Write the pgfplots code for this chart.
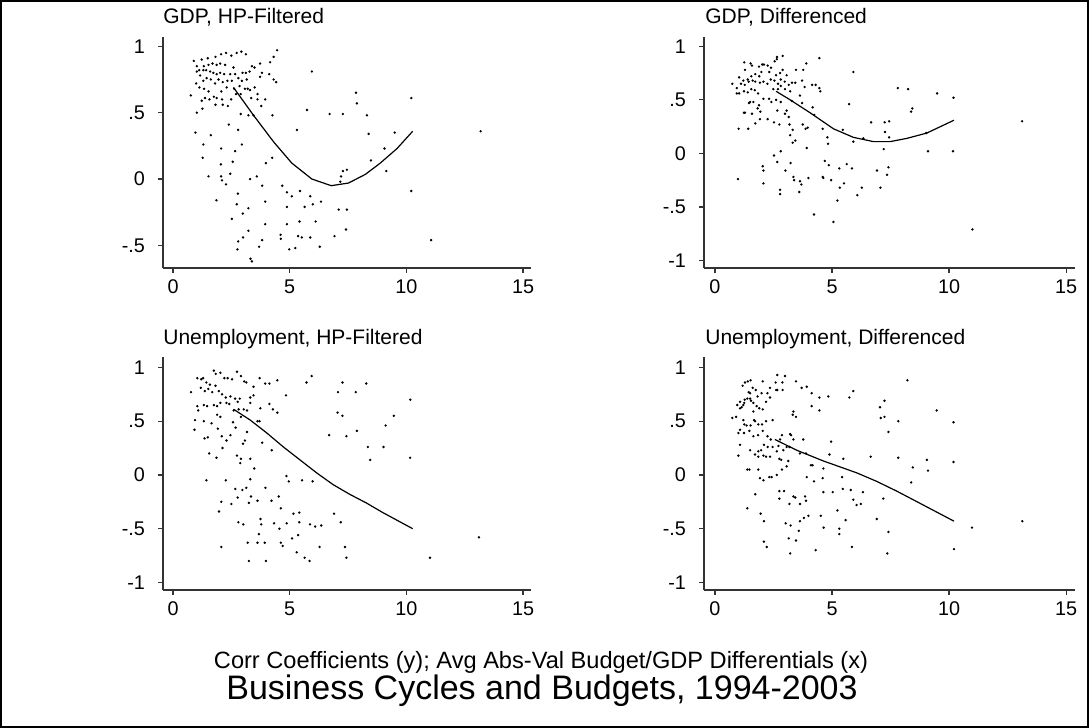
\documentclass[border=0pt]{standalone}
\usepackage{fontspec}
\setmainfont{Liberation Sans}
\usepackage{pgfplots}
\pgfplotsset{compat=1.18}
\pgfplotsset{
  statapanel/.style={
    scale only axis,
    axis x line*=bottom, axis y line*=left,
    axis line style={line width=0.6pt, black!80, -},
    every tick/.style={line width=0.6pt, black!80},
    tick align=outside,
    major tick length=2.5pt,
    xtick={0,5,10,15},
    xticklabels={0,5,10,15},
    ticklabel style={font=\fontsize{9.9}{11}\selectfont},
    yticklabel style={xshift=-3pt},
    /pgf/number format/assume math mode=true,
    clip=false,
  },
  dots/.style={only marks, mark=*, mark size=0.38pt, mark options={draw=none, fill=black!85}},
  fitline/.style={no marks, black, line width=0.6pt},
}
\begin{document}
\begin{tikzpicture}
\useasboundingbox (0,0) rectangle (544.5pt,364pt);
\draw[line width=1pt] (0.5pt,0.5pt) rectangle (544pt,363.5pt);

% ---------- Panel 1: GDP, HP-Filtered ----------
\begin{axis}[statapanel, at={(81.5pt,230pt)}, anchor=south west,
  width=184pt, height=115.5pt,
  xmin=-0.43, xmax=15.34, ymin=-0.67, ymax=1.07,
  ytick={-0.5,0,0.5,1}, yticklabels={-.5,0,.5,1}]
\addplot[dots] coordinates {
(0.89,0.89)(1.23,0.90)(1.49,0.91)(1.82,0.92)(2.06,0.94)(2.27,0.95)(2.50,0.93)(2.73,0.95)(2.93,0.96)(3.12,0.94)(4.46,0.97)(4.31,0.92)(4.16,0.88)(3.73,0.87)(3.38,0.85)(3.49,0.84)(2.59,0.84)(2.23,0.86)(2.02,0.87)(1.87,0.86)(1.69,0.87)(1.52,0.86)(1.32,0.85)(1.02,0.85)(1.12,0.82)(1.30,0.82)(1.42,0.82)(1.59,0.81)(1.73,0.80)(1.87,0.79)(2.02,0.80)(2.19,0.79)(2.45,0.79)(2.66,0.79)(2.98,0.80)(3.12,0.80)(3.16,0.75)(3.28,0.81)(3.81,0.80)(4.12,0.79)(4.42,0.73)(4.31,0.75)(3.73,0.77)(2.95,0.74)(2.80,0.76)(2.52,0.74)(2.33,0.74)(2.13,0.73)(1.95,0.75)(1.80,0.72)(1.62,0.75)(1.44,0.76)(1.30,0.74)(1.16,0.78)(1.02,0.81)(0.99,0.72)(1.13,0.69)(1.33,0.68)(1.52,0.66)(1.37,0.61)(1.23,0.59)(1.56,0.60)(1.75,0.62)(1.87,0.61)(2.07,0.66)(2.30,0.69)(2.62,0.68)(2.85,0.70)(3.08,0.68)(3.20,0.68)(3.30,0.67)(3.50,0.69)(3.62,0.64)(3.35,0.61)(3.62,0.60)(3.95,0.60)(3.78,0.55)(2.90,0.64)(2.70,0.64)(2.49,0.60)(2.35,0.55)(2.10,0.60)(2.13,0.56)(1.82,0.56)(1.26,0.53)(1.02,0.50)(0.76,0.63)
(5.74,0.52)(4.26,0.48)(3.23,0.48)(2.90,0.49)(3.45,0.48)(6.71,0.49)(7.28,0.49)(8.31,0.48)(7.84,0.65)(7.88,0.57)(5.95,0.81)(5.31,0.37)(2.79,0.37)(2.39,0.41)(0.96,0.35)(1.62,0.33)(1.30,0.26)(2.95,0.26)(2.66,0.21)(2.06,0.23)(1.27,0.16)(4.25,0.16)(3.98,0.12)(2.56,0.13)(2.05,0.11)(2.45,0.04)(1.52,0.02)(2.06,0.02)(2.10,-0.01)(2.27,-0.04)(3.30,0.00)(3.59,0.02)(4.68,-0.05)(3.82,-0.05)(2.78,-0.11)(4.88,-0.10)(5.09,-0.13)(5.44,-0.09)(5.88,-0.13)(5.99,-0.19)(6.34,-0.17)(5.64,-0.21)(4.88,-0.21)(3.95,-0.17)(3.23,-0.22)(2.73,-0.19)(1.86,-0.16)(2.99,-0.26)(2.52,-0.30)(7.17,-0.02)(7.20,0.02)(7.28,0.06)(7.45,0.07)(7.10,-0.23)(7.45,-0.23)(8.48,0.14)(9.14,0.06)(9.06,0.23)(9.50,0.35)(8.38,0.34)(10.21,0.61)(10.21,-0.09)(11.06,-0.46)(13.18,0.36)(4.88,-0.34)(3.95,-0.34)(5.42,-0.32)(6.11,-0.32)(7.41,-0.38)(6.92,-0.43)(5.88,-0.44)(5.52,-0.44)(5.36,-0.43)(4.61,-0.42)(4.62,-0.45)(3.82,-0.46)(3.23,-0.39)(3.00,-0.44)(2.79,-0.47)(2.76,-0.53)(3.69,-0.51)(3.32,-0.60)(3.38,-0.62)(4.98,-0.53)(5.24,-0.52)(6.29,-0.51)
};
\addplot[fitline] coordinates {(2.59,0.69)(3.45,0.48)(4.31,0.28)(5.09,0.12)(5.95,0.00)(6.78,-0.05)(7.52,-0.03)(8.24,0.035)(8.88,0.12)(9.60,0.23)(10.27,0.36)};
\end{axis}

% ---------- Panel 2: GDP, Differenced ----------
\begin{axis}[statapanel, at={(352pt,230pt)}, anchor=south west,
  width=185.5pt, height=115.5pt,
  xmin=-0.47, xmax=15.38, ymin=-1.07, ymax=1.087,
  ytick={-1,-0.5,0,0.5,1}, yticklabels={-1,-.5,0,.5,1}]
\addplot[dots] coordinates {
(1.25,0.85)(1.52,0.84)(1.58,0.82)(1.28,0.78)(1.88,0.81)(2.02,0.83)(2.09,0.83)(2.25,0.82)(2.39,0.80)(2.55,0.86)(2.65,0.90)(2.89,0.91)(2.64,0.88)(3.90,0.84)(4.46,0.89)(3.46,0.78)(3.77,0.78)(2.89,0.78)(3.06,0.73)(2.78,0.75)(2.61,0.73)(2.32,0.76)(1.98,0.76)(1.89,0.72)(1.72,0.74)(1.55,0.72)(1.40,0.69)(1.21,0.68)(1.03,0.71)(0.74,0.65)(0.93,0.61)(1.11,0.65)(1.27,0.64)(1.44,0.67)(1.61,0.68)(1.72,0.67)(1.92,0.66)(2.07,0.67)(2.24,0.65)(2.38,0.69)(2.54,0.68)(2.69,0.65)(2.81,0.69)(2.98,0.67)(3.15,0.64)(3.29,0.66)(3.43,0.66)(3.72,0.68)(3.83,0.62)(4.15,0.64)(4.30,0.64)(4.46,0.61)(4.50,0.58)(3.63,0.54)(3.21,0.58)(2.99,0.60)(2.81,0.63)(2.69,0.60)(2.49,0.60)(2.31,0.51)(2.07,0.51)(1.84,0.56)(1.70,0.59)(1.55,0.60)(1.40,0.57)(1.24,0.58)(1.03,0.56)(0.93,0.56)(1.50,0.48)(1.64,0.48)(1.45,0.47)(1.88,0.45)(1.82,0.42)(1.94,0.39)(1.92,0.32)(2.25,0.32)(2.52,0.29)(2.75,0.27)(2.41,0.48)(2.61,0.50)(2.81,0.48)(3.28,0.49)(3.72,0.47)(2.99,0.37)(3.06,0.40)(3.15,0.34)(3.18,0.27)(2.66,0.40)(1.72,0.28)(1.58,0.37)(1.28,0.38)(1.42,0.23)(1.01,0.23)(1.24,0.38)
(5.73,0.46)(5.91,0.76)(4.17,0.43)(4.24,0.36)(3.75,0.27)(3.96,0.24)(3.87,0.23)(3.32,0.22)(3.21,0.17)(3.43,0.12)(3.32,0.10)(4.60,0.23)(4.80,0.15)(4.83,0.09)(5.46,0.22)(5.91,0.11)(6.34,0.14)(6.67,0.29)(7.25,0.29)(7.44,0.30)(7.26,0.20)(7.44,0.15)(7.21,0.04)(7.81,0.61)(8.25,0.60)(9.49,0.56)(10.19,0.52)(8.38,0.39)(8.43,0.42)(9.02,0.19)(9.10,0.02)(10.17,0.02)(13.12,0.30)(3.92,0.05)(2.81,0.02)(2.52,-0.02)(2.66,-0.08)(2.04,-0.12)(2.07,-0.16)(2.07,-0.28)(2.78,-0.34)(2.78,-0.38)(3.01,-0.16)(3.23,-0.09)(3.35,-0.22)(3.38,-0.25)(3.63,-0.26)(3.69,-0.29)(3.60,-0.36)(3.99,-0.23)(4.60,-0.22)(4.63,-0.23)(4.69,-0.07)(4.86,-0.11)(5.31,-0.14)(5.63,-0.10)(5.85,-0.14)(4.96,-0.25)(5.33,-0.32)(5.51,-0.28)(6.27,-0.32)(6.08,-0.39)(5.23,-0.44)(5.06,-0.64)(4.23,-0.57)(6.92,-0.16)(7.07,-0.32)(7.41,-0.13)(7.35,-0.20)(11.00,-0.71)(0.98,-0.24)
};
\addplot[fitline] coordinates {(2.61,0.58)(3.21,0.50)(4.06,0.38)(5.06,0.23)(5.91,0.15)(6.77,0.11)(7.48,0.11)(8.19,0.14)(9.05,0.19)(10.21,0.31)};
\end{axis}

% ---------- Panel 3: Unemployment, HP-Filtered ----------
\begin{axis}[statapanel, at={(81.5pt,69pt)}, anchor=south west,
  width=184pt, height=116.5pt,
  xmin=-0.43, xmax=15.34, ymin=-1.07, ymax=1.097,
  ytick={-1,-0.5,0,0.5,1}, yticklabels={-1,-.5,0,.5,1}]
\addplot[dots] coordinates {
(0.77,0.77)(1.04,0.90)(1.21,0.89)(1.29,0.90)(1.43,0.86)(1.58,0.84)(1.75,0.97)(1.83,0.94)(2.03,0.95)(2.20,0.90)(2.34,0.90)(2.53,0.89)(2.74,0.96)(2.91,0.92)(3.05,0.87)(3.14,0.86)(3.45,0.82)(3.71,0.90)(3.95,0.85)(4.13,0.85)(4.47,0.88)(4.84,0.74)(5.72,0.86)(5.94,0.92)(7.26,0.86)(8.28,0.85)(7.83,0.77)(7.07,0.77)(1.19,0.81)(1.36,0.78)(1.51,0.80)(1.68,0.77)(1.82,0.83)(1.96,0.78)(2.10,0.75)(2.26,0.72)(2.46,0.73)(2.66,0.71)(2.86,0.71)(3.31,0.72)(3.45,0.74)(3.74,0.62)(4.13,0.66)(4.28,0.61)(4.47,0.58)(3.31,0.67)(3.17,0.60)(3.03,0.61)(2.81,0.61)(2.77,0.68)(2.60,0.60)(2.41,0.66)(2.29,0.67)(2.03,0.67)(1.89,0.64)(1.75,0.65)(1.46,0.64)(1.32,0.65)(1.04,0.64)(1.08,0.60)(0.94,0.51)(0.92,0.42)(1.32,0.50)(1.65,0.48)(1.89,0.56)(2.03,0.54)(1.92,0.43)(2.09,0.36)(2.12,0.25)(2.29,0.32)(2.46,0.37)(2.57,0.49)(2.68,0.44)(2.91,0.54)(3.17,0.40)(3.08,0.32)(3.00,0.29)(2.74,0.18)(2.91,0.15)(2.88,0.11)(3.31,0.15)(3.48,0.06)(3.62,0.50)(3.82,0.30)(4.23,0.23)(3.71,0.50)(1.49,0.35)(1.35,0.34)(1.55,0.20)(1.86,0.16)
(1.43,-0.05)(2.26,-0.05)(2.50,-0.27)(2.07,-0.25)(1.97,-0.34)(2.67,-0.13)(2.97,-0.14)(3.14,-0.12)(2.77,-0.21)(3.31,-0.04)(3.34,-0.20)(3.25,-0.26)(3.62,-0.24)(3.96,-0.12)(4.22,-0.24)(4.53,-0.20)(4.62,-0.31)(4.86,-0.01)(4.96,-0.06)(5.53,-0.05)(5.98,-0.06)(6.69,0.37)(7.05,0.58)(7.26,0.55)(7.43,0.36)(7.88,0.41)(8.35,0.26)(8.45,0.14)(9.02,0.26)(9.11,0.46)(9.46,0.55)(10.17,0.70)(10.16,0.16)(5.16,-0.36)(5.41,-0.35)(5.41,-0.44)(4.87,-0.45)(4.33,-0.45)(4.56,-0.50)(3.78,-0.46)(3.75,-0.41)(3.93,-0.63)(3.62,-0.63)(3.01,-0.46)(2.80,-0.44)(3.20,-0.63)(3.68,-0.55)(4.62,-0.63)(4.70,-0.66)(5.10,-0.59)(5.36,-0.56)(5.30,-0.72)(5.64,-0.77)(5.85,-0.80)(5.87,-0.46)(6.09,-0.48)(6.35,-0.47)(6.28,-0.67)(6.90,-0.36)(7.19,-0.44)(7.37,-0.67)(7.43,-0.77)(3.25,-0.80)(3.98,-0.80)(2.07,-0.67)(11.01,-0.77)(13.11,-0.58)
};
\addplot[fitline] coordinates {(2.60,0.61)(3.31,0.51)(4.02,0.39)(4.73,0.26)(5.44,0.14)(6.15,0.02)(6.86,-0.09)(7.57,-0.18)(8.28,-0.26)(8.99,-0.35)(10.27,-0.50)};
\end{axis}

% ---------- Panel 4: Unemployment, Differenced ----------
\begin{axis}[statapanel, at={(352pt,69pt)}, anchor=south west,
  width=185.5pt, height=116.5pt,
  xmin=-0.47, xmax=15.38, ymin=-1.07, ymax=1.097,
  ytick={-1,-0.5,0,0.5,1}, yticklabels={-1,-.5,0,.5,1}]
\addplot[dots] coordinates {
(0.74,0.53)(0.90,0.54)(1.07,0.62)(1.14,0.63)(1.25,0.67)(1.27,0.70)(1.38,0.71)(1.50,0.71)(1.54,0.69)(1.64,0.67)(1.78,0.64)(1.89,0.62)(2.04,0.61)(2.18,0.68)(2.35,0.72)(2.46,0.51)(2.18,0.50)(2.01,0.47)(1.85,0.47)(1.67,0.51)(1.52,0.46)(1.35,0.46)(1.25,0.47)(1.21,0.51)(1.07,0.42)(1.00,0.39)(1.24,0.39)(1.47,0.41)(1.64,0.36)(1.84,0.37)(2.04,0.41)(2.24,0.36)(2.38,0.33)(2.46,0.26)(2.25,0.26)(2.09,0.28)(1.97,0.23)(1.85,0.22)(1.85,0.17)(2.07,0.18)(2.18,0.17)(2.35,0.17)(2.64,0.22)(2.75,0.15)(2.83,0.14)(2.92,0.23)(3.06,0.26)(3.18,0.26)(3.13,0.13)(3.06,0.08)(2.86,0.05)(2.64,0.00)(2.42,-0.02)(2.32,-0.02)(2.07,-0.05)(1.92,-0.03)(1.85,0.05)(1.47,0.05)(1.38,0.05)(1.07,0.28)(1.00,0.18)(1.50,0.23)(1.71,0.19)(2.78,0.33)(2.71,0.27)(2.86,0.37)(3.21,0.38)(3.25,0.37)(3.35,0.33)(3.63,0.20)(3.77,0.33)(3.89,0.20)
(1.40,0.87)(1.52,0.88)(1.28,0.86)(1.18,0.83)(1.61,0.81)(1.74,0.79)(2.04,0.87)(2.59,0.86)(2.66,0.93)(2.99,0.92)(2.89,0.79)(2.66,0.79)(2.35,0.81)(2.24,0.76)(1.99,0.76)(1.82,0.73)(1.50,0.76)(1.44,0.77)(1.07,0.68)(0.95,0.65)(1.21,0.65)(1.64,0.59)(1.71,0.50)(3.35,0.59)(3.32,0.56)(3.46,0.54)(3.46,0.87)(3.70,0.81)(3.92,0.82)(4.13,0.76)(4.46,0.72)(4.84,0.73)(4.13,0.64)(4.46,0.60)(2.88,0.86)(2.61,0.79)(8.22,0.88)
(4.17,0.09)(4.10,0.09)(3.92,-0.02)(4.23,-0.06)(4.60,-0.03)(4.63,0.06)(4.89,0.19)(4.96,0.31)(5.48,0.15)(5.43,-0.02)(5.80,-0.14)(5.23,-0.33)(5.03,-0.16)(4.63,-0.16)(5.46,-0.13)(6.05,-0.28)(6.23,-0.27)(6.32,-0.16)(5.91,-0.23)(5.74,0.72)(5.91,0.78)(7.05,0.63)(7.24,0.69)(7.08,0.53)(7.24,0.54)(7.41,0.40)(6.65,0.17)(7.83,0.50)(7.83,0.16)(8.45,0.07)(8.38,-0.07)(9.05,0.14)(9.10,0.04)(9.47,0.60)(10.19,0.49)(10.19,0.12)(7.19,-0.22)(6.91,-0.41)(7.41,-0.53)(7.36,-0.73)(5.85,-0.67)(5.58,-0.42)(5.31,-0.50)(5.31,-0.55)(4.64,-0.49)(4.52,-0.38)(3.99,-0.38)(3.80,-0.40)(3.63,-0.43)(3.58,-0.52)(3.23,-0.47)(3.02,-0.45)(3.15,-0.59)(3.46,-0.61)(3.21,-0.73)(4.30,-0.70)(2.21,-0.67)(2.09,-0.62)(2.09,-0.43)(1.95,-0.36)(1.38,-0.31)(1.72,-0.18)(2.75,-0.22)(2.75,-0.15)(2.95,-0.15)(3.18,-0.27)(3.35,-0.20)(3.43,-0.21)(3.63,-0.27)(3.85,-0.20)(3.89,-0.24)(10.98,-0.49)(13.13,-0.43)(10.21,-0.69)
};
\addplot[fitline] coordinates {(2.56,0.33)(3.49,0.23)(4.63,0.13)(6.05,0.02)(6.91,-0.06)(7.76,-0.15)(8.90,-0.28)(10.21,-0.43)};
\end{axis}

% ---------- Titles ----------
\begin{scope}[every node/.style={inner sep=0pt, font=\fontsize{10.5}{12}\selectfont}]
\node[anchor=base west] at (81.5pt,352.3pt) {GDP, HP-Filtered};
\node[anchor=base west] at (352.5pt,352.3pt) {GDP, Differenced};
\node[anchor=base west] at (81.5pt,191.8pt) {Unemployment, HP-Filtered};
\node[anchor=base west] at (352.5pt,191.8pt) {Unemployment, Differenced};
\end{scope}
\node[anchor=base, inner sep=0pt, font=\fontsize{11.8}{13}\selectfont] at (270.5pt,29.8pt) {Corr Coefficients (y); Avg Abs-Val Budget/GDP Differentials (x)};
\node[anchor=base, inner sep=0pt, font=\fontsize{17}{19}\selectfont] at (271pt,14pt) {Business Cycles and Budgets, 1994-2003};
\end{tikzpicture}
\end{document}
